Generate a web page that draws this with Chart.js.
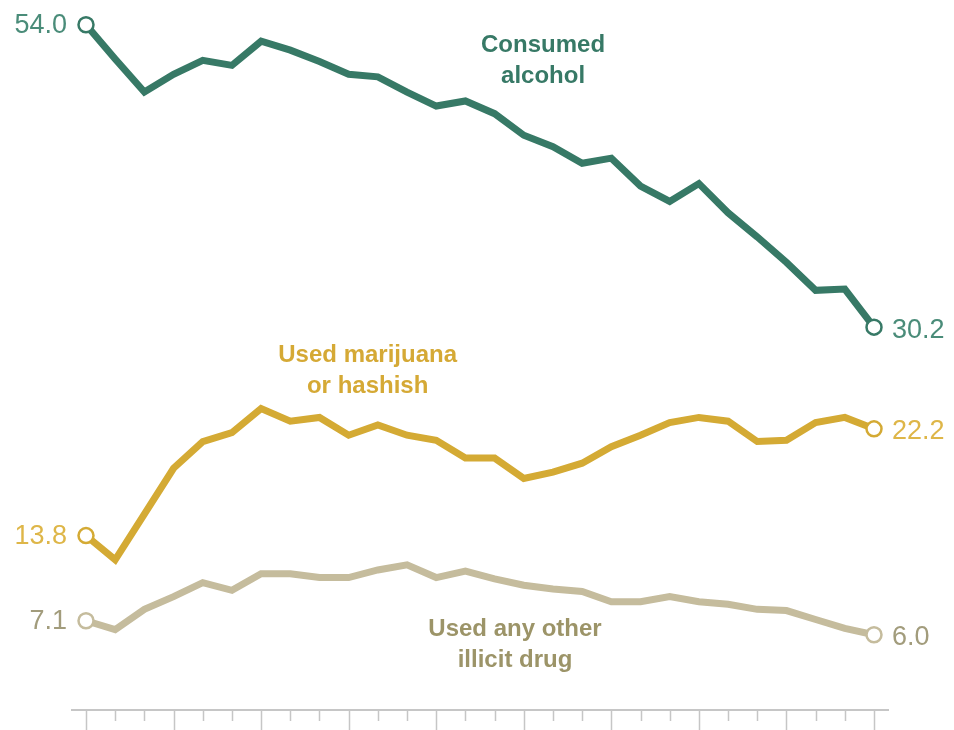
<!DOCTYPE html>
<html>
<head>
<meta charset="utf-8">
<script src="https://cdn.jsdelivr.net/npm/chart.js@4/dist/chart.umd.min.js"></script>
<style>
  html, body { margin: 0; padding: 0; background: #fff; }
  #wrap { width: 954px; height: 730px; position: relative; }
</style>
</head>
<body>
<div id="wrap"><canvas id="grafico"></canvas></div>
<script>
// anos (categorias do eixo x)
const anos = [1991, 1992, 1993, 1994, 1995, 1996, 1997, 1998, 1999, 2000,
  2001, 2002, 2003, 2004, 2005, 2006, 2007, 2008, 2009, 2010,
  2011, 2012, 2013, 2014, 2015, 2016, 2017, 2018];

// valores (%)
const alcool = [54.0, 51.3, 48.7, 50.1, 51.2, 50.8, 52.7, 52.0, 51.1, 50.1,
  49.9, 48.7, 47.6, 48.0, 47.0, 45.3, 44.4, 43.1, 43.5, 41.3,
  40.1, 41.5, 39.2, 37.3, 35.3, 33.1, 33.2, 30.2];

const maconha = [13.8, 11.9, 15.5, 19.1, 21.2, 21.9, 23.8, 22.8, 23.1, 21.7,
  22.5, 21.7, 21.3, 19.9, 19.9, 18.3, 18.8, 19.5, 20.8, 21.7,
  22.7, 23.1, 22.8, 21.2, 21.3, 22.7, 23.1, 22.2];

const outrasDrogas = [7.1, 6.4, 8.0, 9.0, 10.1, 9.5, 10.8, 10.8, 10.5, 10.5,
  11.1, 11.5, 10.5, 11.0, 10.4, 9.9, 9.6, 9.4, 8.6, 8.6,
  9.0, 8.6, 8.4, 8.0, 7.9, 7.2, 6.5, 6.0];

const nomesSeries = [['Consumed', 'alcohol'], ['Used marijuana', 'or hashish'], ['Used any other', 'illicit drug']];

// cores
const corAlcool = '#377966';
const corMaconha = '#d4aa34';
const corOutras = '#c5bc9d';

const ultimo = anos.length - 1;

function serie(dados, cor) {
  return {
    data: dados,
    borderColor: cor,
    borderWidth: 7,
    borderJoinStyle: 'miter',
    tension: 0,
    pointRadius: (c) => (c.dataIndex === 0 || c.dataIndex === ultimo) ? 7.5 : 0,
    pointBackgroundColor: '#ffffff',
    pointBorderColor: cor,
    pointBorderWidth: 2.5,
    pointHoverRadius: 0
  };
}

// plugin que desenha o eixo, os ticks e os textos
const rotulos = {
  id: 'rotulos',
  afterDatasetsDraw(chart) {
    const ctx = chart.ctx;
    const x = chart.scales.x;
    const y = chart.scales.y;
    const area = chart.chartArea;
    const base = y.getPixelForValue(0) - 1;

    // eixo x
    ctx.save();
    ctx.strokeStyle = '#c6c6c6';
    ctx.lineWidth = 2;
    ctx.beginPath();
    ctx.moveTo(area.left - 15, base);
    ctx.lineTo(area.right + 15, base);
    ctx.stroke();
    ctx.lineWidth = 1.5;
    anos.forEach((ano, i) => {
      const px = Math.round(x.getPixelForValue(i)) + 0.5;
      const comprimento = (i % 3 === 0) ? 22 : 11;
      ctx.beginPath();
      ctx.moveTo(px, base);
      ctx.lineTo(px, base + comprimento);
      ctx.stroke();
    });

    // valores do inicio e do fim
    ctx.font = '27px "Liberation Sans", Arial, sans-serif';
    ctx.textBaseline = 'middle';
    const pontas = [
      [alcool, '#4a8c79'],
      [maconha, '#deb648'],
      [outrasDrogas, '#a29c7c']
    ];
    pontas.forEach(([dados, cor]) => {
      ctx.fillStyle = cor;
      ctx.textAlign = 'right';
      ctx.fillText(dados[0].toFixed(1), x.getPixelForValue(0) - 19, y.getPixelForValue(dados[0]) + 1);
      ctx.textAlign = 'left';
      ctx.fillText(dados[ultimo].toFixed(1), x.getPixelForValue(ultimo) + 18, y.getPixelForValue(dados[ultimo]) + 3);
    });

    // nomes das series
    ctx.font = 'bold 24px "Liberation Sans", Arial, sans-serif';
    ctx.textAlign = 'center';
    const posicoes = [
      [15.66, 52.4, '#377966'],
      [9.65, 28.0, '#d5a935'],
      [14.7, 6.4, '#9c9468']
    ];
    posicoes.forEach(([ix, v, cor], k) => {
      ctx.fillStyle = cor;
      const px = x.getPixelForValue(0) + ix * (x.getPixelForValue(1) - x.getPixelForValue(0));
      const py = y.getPixelForValue(v);
      ctx.fillText(nomesSeries[k][0], px, py);
      ctx.fillText(nomesSeries[k][1], px, py + 31);
    });
    ctx.restore();
  }
};

const grafico = new Chart(document.getElementById('grafico'), {
  type: 'line',
  data: {
    labels: anos,
    datasets: [serie(outrasDrogas, corOutras), serie(maconha, corMaconha), serie(alcool, corAlcool)]
  },
  options: {
    responsive: true,
    maintainAspectRatio: false,
    animation: false,
    layout: { padding: { left: 86, right: 80, top: 12, bottom: 19 } },
    scales: {
      x: { display: false, offset: false },
      y: { display: false, min: 0, max: 55 }
    },
    plugins: {
      legend: { display: false },
      tooltip: { enabled: false },
      title: { display: false }
    }
  },
  plugins: [rotulos]
});
</script>
</body>
</html>
